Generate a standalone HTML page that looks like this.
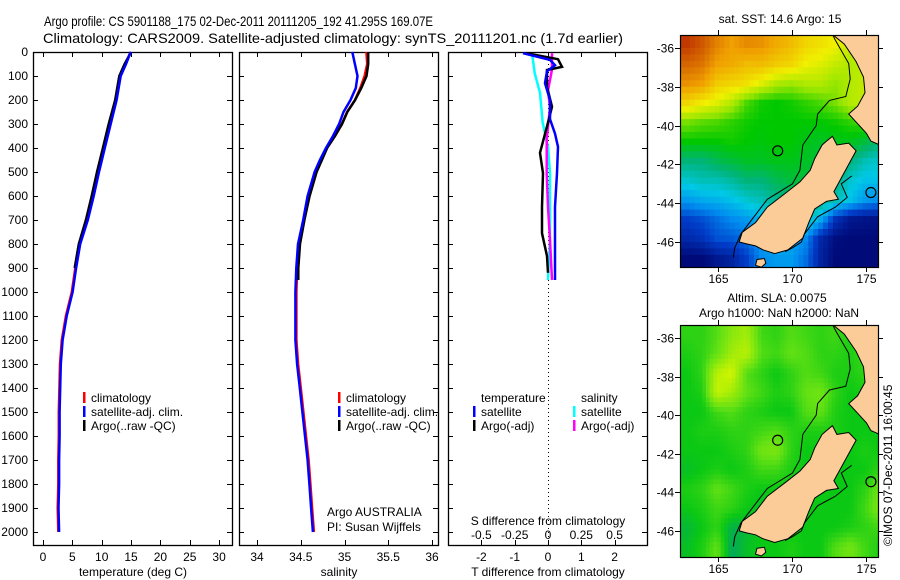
<!DOCTYPE html>
<html><head><meta charset="utf-8">
<style>
html,body{margin:0;padding:0;background:#fff;}
svg{display:block;font-family:"Liberation Sans",sans-serif;}
text{fill:#000;}
</style></head>
<body>
<svg id="fig" width="900" height="580" viewBox="0 0 900 580" xmlns="http://www.w3.org/2000/svg">
<text x="44" y="26" font-size="14" textLength="389" lengthAdjust="spacingAndGlyphs">Argo profile: CS 5901188_175 02-Dec-2011 20111205_192 41.295S 169.07E</text>
<text x="43" y="43" font-size="14" textLength="580" lengthAdjust="spacingAndGlyphs">Climatology: CARS2009. Satellite-adjusted climatology: synTS_20111201.nc (1.7d earlier)</text>
<g id="g"></g>
</svg>
<script>
// ---------- DATA ----------
const depthTicks=[0,100,200,300,400,500,600,700,800,900,1000,1100,1200,1300,1400,1500,1600,1700,1800,1900,2000];
const tTicks=[0,5,10,15,20,25,30];
const sTicks=[34,34.5,35,35.5,36];
const sTickLabels=["34","34.5","35","35.5","36"];
const dTTicks=[-2,-1,0,1,2];
const dSTicks=[-0.5,-0.25,0,0.25,0.5];
const dSTickLabels=["-0.5","-0.25","0","0.25","0.5"];

const tDepths=[0,50,100,200,300,400,500,600,700,800,900,1000,1100,1200,1300,1400,1500,1600,1700,1800,1900,2000];
const tClim=[14.9,14.1,13.1,12.4,11.4,10.4,9.4,8.5,7.4,6.2,5.5,4.9,3.9,3.2,2.9,2.8,2.7,2.7,2.6,2.6,2.5,2.6];
const tSat=[14.8,14.0,13.1,12.4,11.4,10.4,9.4,8.5,7.5,6.2,5.5,4.9,3.9,3.2,2.9,2.8,2.7,2.7,2.6,2.6,2.5,2.6];
const argoDepths=[0,50,100,200,300,400,500,600,700,800,900];
const tArgo=[15.0,13.9,13.0,12.3,11.2,10.2,9.2,8.3,7.3,6.1,5.4];

const sDepths=[0,50,100,150,200,250,300,350,400,450,500,600,700,800,900,1000,1100,1200,1300,1400,1500,1600,1700,1800,1900,2000];
const sClim=[35.25,35.26,35.23,35.18,35.12,35.03,34.97,34.89,34.80,34.73,34.67,34.59,34.54,34.48,34.46,34.45,34.45,34.45,34.47,34.50,34.53,34.56,34.59,34.61,34.63,34.65];
const sSat=[35.10,35.13,35.16,35.14,35.08,35.00,34.95,34.88,34.80,34.73,34.67,34.59,34.54,34.48,34.46,34.45,34.45,34.45,34.47,34.50,34.53,34.56,34.59,34.61,34.63,34.65];
const sArgoDepths=[0,50,100,150,200,250,300,350,400,450,500,600,700,800,900,950];
const sArgo=[35.26,35.26,35.24,35.18,35.11,35.02,34.96,34.88,34.79,34.73,34.67,34.59,34.53,34.48,34.46,34.46];

const dtSatDepths=[5,33,55,80,130,200,280,340,395,505,645,785,950];
const dtSat=[-0.75,0.06,0.21,-0.03,-0.09,0.06,0.06,0.21,0.3,0.27,0.21,0.21,0.21];
const dtArgoDepths=[5,30,62,75,145,228,310,420,505,645,755,850,920];
const dtArgo=[-0.65,0.3,0.42,-0.03,-0.03,0.12,-0.03,-0.24,-0.15,-0.18,-0.18,-0.03,0.0];
const dsSatDepths=[5,88,170,295,395,505,785,950];
const dsSat=[-0.12,-0.1,-0.06,-0.04,0.0,0.015,0.015,0.0];
const dsArgoDepths=[5,73,160,230,365,505,645,785,950];
const dsArgo=[0.03,0.03,0.0,0.015,-0.01,-0.01,0.0,0.015,0.03];

const mapLatTicks=[-36,-38,-40,-42,-44,-46];
const mapLonTicks=[165,170,175];
const sstGrid=[
[19.4,19.0,18.4,18.0,18.3,18.2,17.8,17.5,17.0,16.8,16.5,16.0,16.0,16.0],
[18.8,18.6,18.0,17.8,17.5,17.5,17.2,17.0,16.5,16.3,16.0,15.8,16.0,16.0],
[18.2,18.0,17.2,17.0,16.8,16.3,15.8,15.6,15.8,15.8,15.5,15.8,16.0,16.0],
[17.0,16.6,16.3,15.8,15.0,14.6,14.5,14.6,14.8,15.0,15.3,15.8,16.0,16.0],
[15.3,15.1,15.0,14.8,14.6,14.5,14.5,14.5,14.5,14.5,14.6,14.8,15.0,15.0],
[14.5,14.5,14.5,14.6,14.5,14.4,14.5,14.5,14.3,14.2,14.3,14.3,14.0,13.5],
[13.5,13.5,13.8,14.0,14.2,14.2,14.3,14.3,14.2,14.0,14.0,13.5,13.0,12.8],
[12.8,13.0,13.0,13.2,13.5,13.5,13.8,14.0,14.0,13.8,13.5,12.8,12.5,12.5],
[12.0,12.2,12.3,12.5,12.8,13.0,13.3,13.5,13.8,13.5,13.0,12.5,12.0,11.8],
[11.0,11.2,11.5,11.8,12.0,12.3,12.8,13.2,13.0,12.2,10.8,10.3,10.2,10.2],
[10.6,10.8,11.2,11.3,11.5,12.0,12.2,12.2,11.8,10.6,10.1,10.0,10.0,10.0],
[10.0,10.0,10.3,10.5,11.0,11.8,12.0,12.0,11.5,10.5,10.0,10.0,10.0,10.0]];
const slaGrid=[
[0.02,0.02,0.04,0.08,0.10,0.03,0.02,0.04,0.03,0.02,0.03,0.01,0.04,0.04],
[0.01,0.02,0.05,0.10,0.12,0.04,0.03,0.05,0.04,0.02,0.02,0.01,0.03,0.05],
[0.00,0.02,0.12,0.14,0.04,0.02,0.00,0.02,0.04,0.03,0.01,0.01,0.02,0.02],
[0.00,0.01,0.13,0.10,0.05,0.03,0.01,0.02,0.05,0.06,0.02,0.00,0.01,0.01],
[0.00,0.00,0.03,0.04,0.02,0.01,0.00,0.00,0.04,0.05,0.01,0.00,0.00,0.00],
[0.00,0.01,0.01,0.02,0.02,0.03,0.04,0.02,0.01,0.01,0.01,0.00,0.00,0.00],
[0.00,0.00,0.00,0.01,0.02,0.06,0.07,0.02,0.00,0.00,0.00,0.00,0.01,0.00],
[-0.01,0.00,0.01,0.00,0.01,0.03,0.03,0.01,0.00,0.00,0.00,0.00,0.00,0.02],
[0.01,0.02,0.05,0.03,0.01,0.00,0.00,0.00,0.00,0.00,0.00,0.00,0.02,0.06],
[0.00,0.01,0.03,0.02,0.00,-0.01,0.00,0.00,0.00,0.00,0.00,0.00,0.03,0.07],
[-0.02,0.00,0.02,-0.03,-0.02,0.00,0.00,0.00,0.00,0.00,0.00,0.01,0.02,0.03],
[-0.01,0.01,0.05,-0.04,-0.01,0.00,0.00,0.01,0.00,0.00,0.04,0.06,0.03,0.01]];

const southIsland=[[166.4,-46.0],[166.6,-45.5],[167.5,-45.0],[168.3,-44.2],[169.5,-43.5],[170.5,-42.9],[171.2,-42.3],[171.5,-41.7],[172.0,-41.0],[172.3,-40.8],[172.7,-40.55],[173.0,-41.0],[173.8,-40.9],[174.3,-41.3],[173.8,-42.0],[173.3,-42.7],[172.8,-43.4],[173.1,-43.8],[172.3,-43.9],[171.5,-44.3],[171.1,-45.0],[170.7,-45.8],[169.7,-46.4],[168.8,-46.6],[168.0,-46.4],[167.5,-46.2],[166.9,-46.1]];
const stewartIsland=[[167.6,-46.9],[168.1,-46.85],[168.2,-47.1],[167.9,-47.3],[167.5,-47.2]];
const northIsland=[[172.7,-35.3],[173.5,-35.8],[174.3,-36.7],[174.8,-37.5],[174.9,-38.3],[174.4,-39.0],[173.8,-39.4],[174.4,-39.9],[175.0,-40.4],[175.3,-40.8],[175.9,-41.0],[175.9,-35.3]];
const contourW=[[172.7,-35.3],[172.9,-35.6],[173.8,-36.8],[173.9,-37.6],[173.6,-38.5],[172.5,-38.7],[171.7,-39.4],[171.6,-40.0],[170.7,-41.0],[170.5,-42.3],[170.0,-43.0],[168.3,-43.8],[167.1,-45.0],[166.5,-45.6],[166.1,-46.3],[166.0,-46.8]];
const contourE=[[174.0,-42.6],[173.3,-43.0],[173.7,-43.7],[172.9,-44.2],[171.7,-44.7],[170.8,-45.6],[170.6,-46.0],[170.0,-46.3],[169.5,-46.5]];
const floats=[[169.0,-41.3],[175.3,-43.45]];

// ---------- DRAWING ----------
const NS="http://www.w3.org/2000/svg";
const G=document.getElementById('g');
function el(tag,attrs,parent){const e=document.createElementNS(NS,tag);for(const k in attrs)e.setAttribute(k,attrs[k]);(parent||G).appendChild(e);return e;}
function txt(s,x,y,size,anchor,parent){const t=el('text',{x:x,y:y,'font-size':size,'text-anchor':anchor||'start'},parent);t.textContent=s;return t;}

const TOP=52,BOT=545;
const yD=d=>TOP+d*0.24;
const P1={x0:33,x1:232},P2={x0:239,x1:438},P3={x0:448,x1:647};
const xT=t=>43+t*5.87;
const xS=s=>257+(s-34)*87.5;
const xDT=t=>548+t*33.3;
const xDS=s=>548+s*133.2;

function frame(P,name){
  const r=el('rect',{x:P.x0+0.5,y:TOP+0.5,width:P.x1-P.x0,height:BOT-TOP,fill:'none',stroke:'#000','stroke-width':1.3});
  
  
  depthTicks.forEach(d=>{
    el('line',{x1:P.x0,x2:P.x0+5,y1:yD(d)+0.5,y2:yD(d)+0.5,stroke:'#000'});
    el('line',{x1:P.x1-5,x2:P.x1,y1:yD(d)+0.5,y2:yD(d)+0.5,stroke:'#000'});
  });
}
function xticks(vals,fx,labels,ylab){
  vals.forEach((v,i)=>{
    const x=Math.round(fx(v))+0.5;
    el('line',{x1:x,x2:x,y1:TOP,y2:TOP+5,stroke:'#000'});
    el('line',{x1:x,x2:x,y1:BOT-5,y2:BOT,stroke:'#000'});
    if(ylab){const t=txt(labels[i],fx(v),ylab,12,'middle');
      
      }
  });
}
function line(xs,ds,fx,color,w,name){
  const pts=xs.map((v,i)=>fx(v).toFixed(1)+','+yD(ds[i]).toFixed(1)).join(' ');
  const p=el('polyline',{points:pts,fill:'none',stroke:color,'stroke-width':w,'stroke-linejoin':'miter'});
  
  
}
function legend(x,y,items){
  items.forEach((it,i)=>{
    el('rect',{x:x,y:y+i*14-6,width:2.5,height:11,fill:it[1]});
    const t=txt(it[0],x+8,y+i*14+4,12);
    
    
  });
}

// Panel 1
frame(P1,'temperature-panel');
depthTicks.forEach(d=>{const t=txt(String(d),28,yD(d)+4,12,'end');
  
  });
xticks(tTicks,xT,tTicks.map(String),561);
line(tClim,tDepths,xT,'#ff0000',2.5,'temperature-climatology-line');
line(tArgo,argoDepths,xT,'#000',2.5,'temperature-argo-line');
line(tSat,tDepths,v=>xT(v)+0.8,'#0000ff',2.5,'temperature-satellite-line');
legend(83,398,[['climatology','#ff0000'],['satellite-adj. clim.','#0000ff'],['Argo(..raw -QC)','#000']]);
{const t=txt('temperature (deg C)',133,576,12,'middle');}

// Panel 2
frame(P2,'salinity-panel');
xticks(sTicks,xS,sTickLabels,561);
line(sClim,sDepths,xS,'#ff0000',2.5,'salinity-climatology-line');
line(sArgo,sArgoDepths,v=>xS(v)+1,'#000',2.5,'salinity-argo-line');
line(sSat,sDepths,v=>xS(v)-1,'#0000ff',2.5,'salinity-satellite-line');
legend(338,398,[['climatology','#ff0000'],['satellite-adj. clim.','#0000ff'],['Argo(..raw -QC)','#000']]);
txt('Argo AUSTRALIA',327,516,12);
txt('PI: Susan Wijffels',327,531,12);
{const t=txt('salinity',339,576,12,'middle');}

// Panel 3
frame(P3,'difference-panel');
el('line',{x1:548.5,x2:548.5,y1:TOP,y2:BOT,stroke:'#000','stroke-dasharray':'1,3'});
xticks(dTTicks,xDT,dTTicks.map(String),561);
dSTicks.forEach((v,i)=>{const t=txt(dSTickLabels[i],xDS(v),539,12,'middle');
  });
txt('S difference from climatology',548,525,12,'middle');
line(dsSat,dsSatDepths,xDS,'#00ffff',2.5,'salinity-diff-satellite-line');
line(dsArgo,dsArgoDepths,xDS,'#ff00ff',2.5,'salinity-diff-argo-line');
line(dtArgo,dtArgoDepths,xDT,'#000',2.5,'temperature-diff-argo-line');
line(dtSat,dtSatDepths,xDT,'#0000ff',2.5,'temperature-diff-satellite-line');
txt('temperature',481,402,12);
txt('salinity',581,402,12);
legend(473,412,[['satellite','#0000ff'],['Argo(-adj)','#000']]);
legend(573,412,[['satellite','#00ffff'],['Argo(-adj)','#ff00ff']]);
{const t=txt('T difference from climatology',548,576,12,'middle');}

// Maps
const MX0=680,MX1=878;
const mx=lon=>MX0+(lon-162.4)*14.8;
function ramp(v,stops){
  if(v<=stops[0][0])return 'rgb('+stops[0][1]+')';
  for(let i=1;i<stops.length;i++){if(v<=stops[i][0]){const a=stops[i-1],b=stops[i],f=(v-a[0])/(b[0]-a[0]);
    return 'rgb('+a[1].map((c,k)=>Math.round(c+(b[1][k]-c)*f)).join(',')+')';}}
  return 'rgb('+stops[stops.length-1][1]+')';
}
function sstColor(v){
  return ramp(v,[[10,[0,10,120]],[11,[0,60,200]],[11.8,[0,140,240]],[12.6,[0,200,230]],[13.5,[0,180,120]],[14.5,[0,200,0]],[15.5,[150,230,0]],[16.5,[240,240,0]],[18,[240,160,0]],[19.5,[190,50,0]]]);
}
function slaColor(v){
  return ramp(v,[[-0.05,[0,160,110]],[0,[10,200,20]],[0.05,[100,225,20]],[0.14,[210,245,0]]]);
}
// rendering-only smoothing of grid (sample grid at sub-cell centres)
function sample(grid,fr,fc){
  const R=grid.length,C=grid[0].length;
  fr=Math.max(0,Math.min(R-1,fr));fc=Math.max(0,Math.min(C-1,fc));
  const r0=Math.floor(fr),c0=Math.floor(fc),r1=Math.min(R-1,r0+1),c1=Math.min(C-1,c0+1),a=fr-r0,b=fc-c0;
  return grid[r0][c0]*(1-a)*(1-b)+grid[r0][c1]*(1-a)*b+grid[r1][c0]*a*(1-b)+grid[r1][c1]*a*b;
}
function map(Y0,Y1,latTop,pxPerDeg,grid,colorFn,name,clipId,sub){
  const my=lat=>Y0+(latTop-lat)*pxPerDeg;
  const gEl=el('g',{});
  
  
  const cp=el('clipPath',{id:clipId},gEl);
  el('rect',{x:MX0,y:Y0,width:MX1-MX0,height:Y1-Y0},cp);
  const inner=el('g',{'clip-path':'url(#'+clipId+')'},gEl);
  const R=grid.length,C=grid[0].length;
  for(let i=0;i<R*sub;i++)for(let j=0;j<C*sub;j++){
    const v=sample(grid,(i+0.5)/sub-0.5,(j+0.5)/sub-0.5);
    const cell=el('rect',{x:mx(162.4+j/sub),y:my(latTop-i/sub),width:14.8/sub+0.4,height:pxPerDeg/sub+0.4,fill:colorFn(v)},inner);
    
  }
  const poly=(pts,fill)=>el('polygon',{points:pts.map(p=>mx(p[0]).toFixed(1)+','+my(p[1]).toFixed(1)).join(' '),fill:fill,stroke:'#000','stroke-width':1},inner);
  poly(southIsland,'#fccc98');poly(stewartIsland,'#fccc98');poly(northIsland,'#fccc98');
  const pl=pts=>el('polyline',{points:pts.map(p=>mx(p[0]).toFixed(1)+','+my(p[1]).toFixed(1)).join(' '),fill:'none',stroke:'#000','stroke-width':1},inner);
  pl(contourW);pl(contourE);
  floats.forEach(f=>{const c=el('circle',{cx:mx(f[0]),cy:my(f[1]),r:5,fill:'none',stroke:'#000','stroke-width':1.2},inner);
    });
  el('rect',{x:MX0+0.5,y:Y0+0.5,width:MX1-MX0,height:Y1-Y0,fill:'none',stroke:'#000','stroke-width':1.2},gEl);
  mapLatTicks.forEach(l=>{const y=Math.round(my(l))+0.5;
    el('line',{x1:MX0-5,x2:MX0,y1:y,y2:y,stroke:'#000'},gEl);
    el('line',{x1:MX1,x2:MX1+5,y1:y,y2:y,stroke:'#000'},gEl);
    const t=txt(String(l),674,y+4,12,'end',gEl);});
  mapLonTicks.forEach(l=>{const x=Math.round(mx(l))+0.5;
    el('line',{x1:x,x2:x,y1:Y0-5,y2:Y0,stroke:'#000'},gEl);
    el('line',{x1:x,x2:x,y1:Y1,y2:Y1+5,stroke:'#000'},gEl);
    const t=txt(String(l),x,Y1+16,12,'middle',gEl);});
}
txt('sat. SST: 14.6  Argo: 15',780,23,12,'middle');
map(35,267,-35.33,19.4,sstGrid,sstColor,'sst-map','clipA',3);
txt('Altim. SLA: 0.0075',777,302,12,'middle');
txt('Argo h1000: NaN h2000: NaN',779,317,12,'middle');
map(325,557,-35.33,19.3,slaGrid,slaColor,'sla-map','clipB',4);
{const t=el('text',{x:0,y:0,'font-size':12,transform:'translate(892,546) rotate(-90)'});t.textContent='©IMOS 07-Dec-2011 16:00:45';
 }
</script>
</body></html>
